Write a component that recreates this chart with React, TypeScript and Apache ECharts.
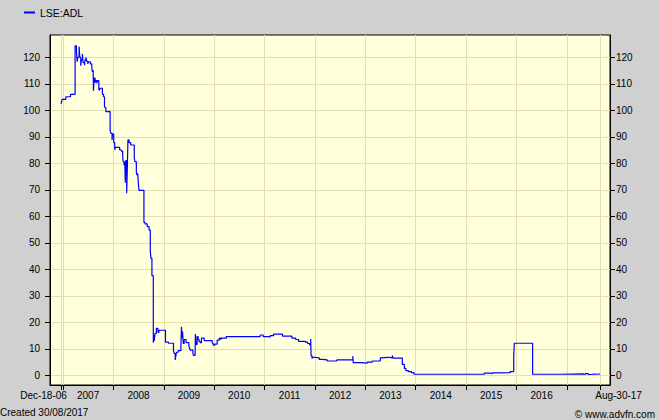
import React, { useEffect, useRef } from "react";
import * as echarts from "echarts";

const seriesName = "LSE:ADL";

const dates = [
  "2006-12-18", "2006-12-22", "2006-12-26", "2007-01-22", "2007-02-25", "2007-03-30",
  "2007-04-09", "2007-04-14", "2007-04-19", "2007-04-28", "2007-05-03", "2007-05-10",
  "2007-05-15", "2007-05-22", "2007-05-27", "2007-06-06", "2007-06-10", "2007-06-16",
  "2007-06-21", "2007-06-30", "2007-07-05", "2007-07-19", "2007-07-29", "2007-08-03",
  "2007-08-08", "2007-08-10", "2007-08-15", "2007-08-22", "2007-08-27", "2007-09-03",
  "2007-09-08", "2007-09-18", "2007-09-25", "2007-10-14", "2007-10-22", "2007-10-29",
  "2007-11-02", "2007-11-08", "2007-12-09", "2007-12-14", "2007-12-23", "2007-12-26",
  "2008-01-04", "2008-01-11", "2008-01-13", "2008-01-15", "2008-02-16", "2008-02-28",
  "2008-03-09", "2008-03-13", "2008-03-19", "2008-03-24", "2008-03-28", "2008-03-31",
  "2008-04-07", "2008-04-11", "2008-04-16", "2008-04-24", "2008-05-06", "2008-06-01",
  "2008-06-06", "2008-06-16", "2008-06-21", "2008-06-26", "2008-06-30", "2008-07-05",
  "2008-08-10", "2008-08-18", "2008-09-03", "2008-09-16", "2008-09-25", "2008-09-30",
  "2008-10-07", "2008-10-17", "2008-10-20", "2008-10-24", "2008-10-29", "2008-11-08",
  "2008-11-20", "2008-11-27", "2009-01-13", "2009-02-04", "2009-03-12", "2009-03-17",
  "2009-03-25", "2009-03-30", "2009-04-03", "2009-04-15", "2009-05-05", "2009-05-09",
  "2009-05-14", "2009-05-17", "2009-05-22", "2009-05-29", "2009-06-12", "2009-07-02",
  "2009-07-06", "2009-07-11", "2009-07-31", "2009-08-04", "2009-08-16", "2009-08-18",
  "2009-08-23", "2009-08-31", "2009-09-07", "2009-09-14", "2009-09-22", "2009-10-01",
  "2009-10-21", "2009-12-18", "2009-12-25", "2010-01-07", "2010-01-23", "2010-02-07",
  "2010-02-14", "2010-02-21", "2010-03-30", "2010-12-01", "2010-12-23", "2011-01-26",
  "2011-02-12", "2011-03-08", "2011-05-12", "2011-07-19", "2011-08-15", "2011-09-05",
  "2011-10-24", "2011-11-10", "2011-11-24", "2011-12-02", "2011-12-05", "2011-12-12",
  "2011-12-16", "2011-12-28", "2012-02-02", "2012-02-24", "2012-03-31", "2012-06-09",
  "2012-10-03", "2012-10-05", "2012-11-25", "2013-01-15", "2013-02-21", "2013-04-20",
  "2013-04-27", "2013-06-17", "2013-07-16", "2013-07-21", "2013-09-26", "2013-10-11",
  "2013-10-22", "2013-11-09", "2013-12-01", "2013-12-20", "2015-05-14", "2015-06-27",
  "2015-07-11", "2015-09-07", "2015-11-17", "2015-12-13", "2015-12-17", "2016-04-28",
  "2016-11-15", "2017-05-04", "2017-05-15", "2017-06-06", "2017-06-20", "2017-07-19",
  "2017-08-03", "2017-08-30",
];

const prices = [
  102.4, 103.2, 104.1, 105.1, 106.0, 124.3,
  122.1, 118.3, 120.0, 124.0, 120.0, 116.8,
  119.0, 121.2, 118.0, 117.0, 119.0, 120.0,
  118.5, 117.5, 118.3, 117.5, 116.0, 114.5,
  115.2, 107.4, 112.1, 110.5, 111.2, 110.2,
  111.2, 107.7, 108.3, 106.0, 105.1, 101.5,
  101.0, 99.5, 92.3, 91.3, 88.8, 91.0,
  87.8, 86.0, 85.0, 86.0, 85.0, 84.6,
  82.3, 80.6, 79.3, 80.6, 72.7, 81.0,
  68.7, 76.6, 88.8, 87.8, 86.9, 81.9,
  80.6, 76.6, 75.5, 76.2, 72.7, 69.8,
  57.7, 57.1, 56.1, 54.8, 46.9, 44.1,
  37.6, 12.3, 15.2, 13.0, 15.8, 17.7,
  16.2, 17.0, 12.5, 12.1, 9.5, 8.3,
  5.8, 7.5, 8.7, 9.3, 10.8, 18.3,
  14.0, 16.5, 12.0, 13.5, 12.3, 11.0,
  10.5, 9.5, 8.5, 7.5, 8.0, 15.6,
  11.7, 14.6, 13.5, 12.7, 12.3, 14.0,
  13.1, 12.1, 11.4, 11.8, 13.3, 14.0,
  13.6, 14.0, 14.6, 15.2, 14.6, 14.5,
  15.0, 15.5, 14.8, 14.0, 13.5, 12.8,
  12.5, 12.0, 11.5, 13.7, 7.3, 6.3,
  6.8, 6.6, 6.0, 5.8, 5.4, 5.8,
  7.3, 4.8, 4.6, 5.0, 5.4, 6.6,
  6.8, 6.6, 7.5, 6.5, 4.1, 2.6,
  1.8, 1.4, 1.0, 0.4, 0.8, 0.6,
  0.9, 1.0, 1.4, 7.0, 12.1, 0.4,
  0.5, 0.3, 0.6, 0.3, 0.5, 0.4,
  0.5, 0.4,
];

const xMin = "2006-09-29";
const xMax = "2017-11-10";
const xTickDates = [
  "2006-12-18", "2007-01-01", "2008-01-01", "2009-01-01", "2010-01-01", "2011-01-01",
  "2012-01-01", "2013-01-01", "2014-01-01", "2015-01-01", "2016-01-01", "2017-01-01",
  "2017-08-30",
];
const xLabelDates = [
  "2006-12-18", "2007-07-02", "2008-07-02", "2009-07-02", "2010-07-02", "2011-07-02",
  "2012-07-02", "2013-07-02", "2014-07-02", "2015-07-02", "2016-07-02", "2017-08-30",
];
const startLabel = "Dec-18-06";
const endLabel = "Aug-30-17";

const yMin = -3.66;
const yMax = 128.4;
const yTicks = [0, 10, 20, 30, 40, 50, 60, 70, 80, 90, 100, 110, 120];

const createdText = "Created 30/08/2017";
const creditText = "© www.advfn.com";

const FONT = "Liberation Sans, Arial, sans-serif";
const GRID = "#e4dfae";

const ts = (s: string) => Date.parse(s + "T00:00:00Z");

export default function App() {
  const ref = useRef<HTMLDivElement>(null);

  useEffect(() => {
    if (!ref.current) return;
    const chart = echarts.init(ref.current, null, { renderer: "svg" });
    const data = dates.map((d, i) => [ts(d), prices[i]]);

    const yAxisBase = (position: "left" | "right", margin: number) => ({
      type: "value",
      position,
      min: yMin,
      max: yMax,
      axisLine: { show: true, lineStyle: { color: "#000", width: 1 } },
      axisTick: { show: true, length: 5, customValues: yTicks, lineStyle: { color: "#000" } },
      axisLabel: {
        customValues: yTicks,
        margin,
        color: "#000",
        fontSize: 10,
        fontFamily: FONT,
      },
      splitLine: {
        show: position === "left",
        lineStyle: { color: GRID, width: 1 },
      },
    });

    chart.setOption({
      animation: false,
      backgroundColor: "#d0d0d0",
      textStyle: { fontFamily: FONT },
      legend: {
        data: [{ name: seriesName, icon: "rect" }],
        left: 24,
        top: 7,
        padding: 0,
        itemWidth: 11,
        itemHeight: 2,
        textStyle: { fontSize: 10.5, color: "#000", fontFamily: FONT },
      },
      grid: {
        left: 50,
        right: 50,
        top: 35,
        bottom: 35,
        show: true,
        backgroundColor: "#ffffdc",
        borderColor: "#000",
        borderWidth: 1,
      },
      xAxis: {
        type: "value",
        min: ts(xMin),
        max: ts(xMax),
        axisLine: { show: true, onZero: false, lineStyle: { color: "#000", width: 1 } },
        axisTick: {
          show: true,
          length: 5,
          customValues: xTickDates.map(ts),
          lineStyle: { color: "#000" },
        },
        axisLabel: {
          customValues: xLabelDates.map(ts),
          margin: 5,
          color: "#000",
          fontSize: 10,
          fontFamily: FONT,
          hideOverlap: false,
          showMinLabel: true,
          showMaxLabel: true,
          formatter: (value: number) => {
            const d = new Date(value);
            const y = d.getUTCFullYear();
            if (y === 2006) return "{l|" + startLabel + "}";
            if (y === 2017) return "{r|" + endLabel + "}";
            return String(y);
          },
          rich: {
            l: { padding: [0, 35, 0, 0], fontSize: 10, fontFamily: FONT, color: "#000" },
            r: { padding: [0, 0, 0, 37], fontSize: 10, fontFamily: FONT, color: "#000" },
          },
        },
        splitLine: { show: true, lineStyle: { color: GRID, width: 1 } },
      },
      yAxis: [yAxisBase("left", 10), yAxisBase("right", 6)],
      series: [
        {
          name: seriesName,
          type: "line",
          step: "end",
          data,
          showSymbol: false,
          symbol: "none",
          color: "#0000ff",
          lineStyle: { color: "#0000ff", width: 1.2 },
          yAxisIndex: 0,
        },
      ],
      graphic: [
        {
          type: "text",
          left: 0,
          top: 407,
          style: { text: createdText, font: "10px " + FONT, fill: "#000" },
        },
        {
          type: "text",
          right: 5,
          top: 409,
          style: { text: creditText, font: "10px " + FONT, fill: "#000" },
        },
      ],
    });

    return () => chart.dispose();
  }, []);

  return (
    <div
      ref={ref}
      style={{ position: "absolute", left: 0, top: 0, width: 660, height: 420 }}
    />
  );
}
